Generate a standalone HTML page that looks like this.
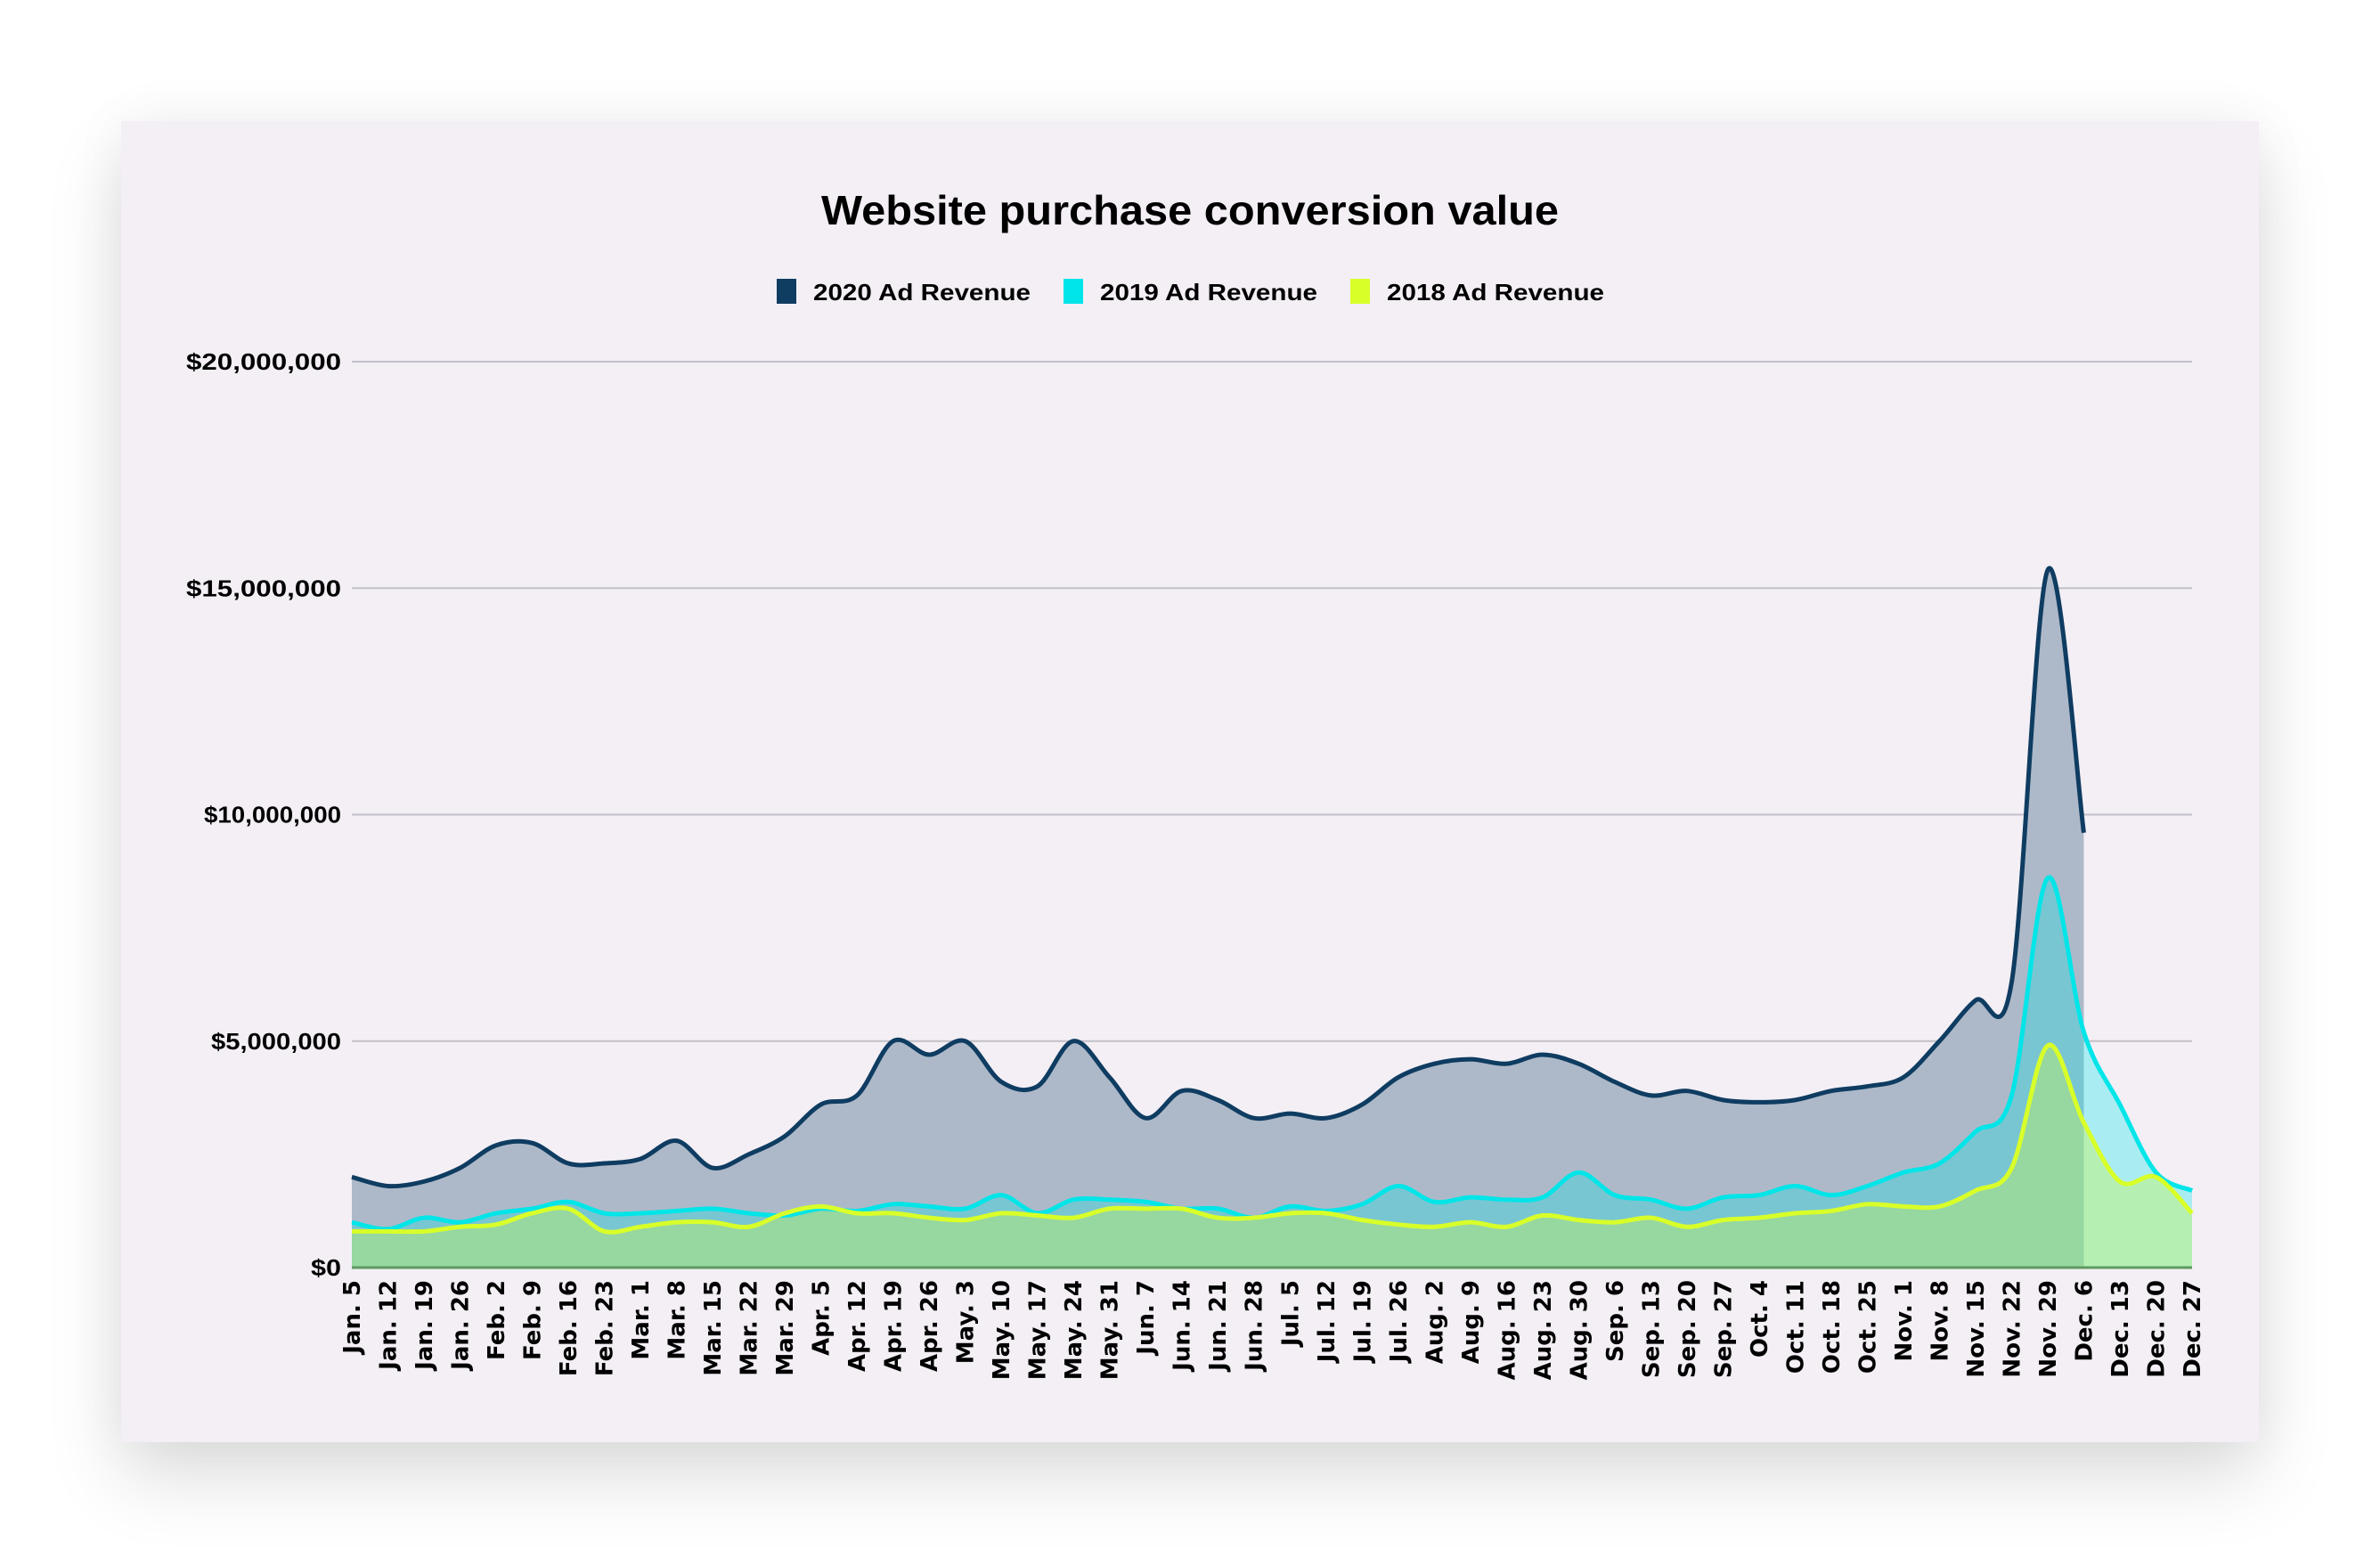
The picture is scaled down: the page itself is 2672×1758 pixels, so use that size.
<!DOCTYPE html>
<html><head><meta charset="utf-8"><style>
body{margin:0;background:#fff;width:2672px;height:1758px;overflow:hidden;font-family:"Liberation Sans",Arial,sans-serif}
#card{position:absolute;left:136px;top:136px;width:2400px;height:1483px;background:#f3eff5;box-shadow:0 40px 80px rgba(0,0,0,0.13),0 0 60px rgba(0,0,0,0.05)}
svg{position:absolute;left:0;top:0}
</style></head><body>
<div id="card"></div>
<svg id="s" width="2672" height="1758" xmlns="http://www.w3.org/2000/svg" font-family="Liberation Sans, Arial, sans-serif" font-weight="bold">
<text x="922" y="252" font-size="46" textLength="828" lengthAdjust="spacingAndGlyphs" fill="#000">Website purchase conversion value</text>
<rect x="872" y="313" width="22" height="28" fill="#0f3c61"/><text x="913" y="337" font-size="26" textLength="244" lengthAdjust="spacingAndGlyphs">2020 Ad Revenue</text>
<rect x="1194" y="313" width="22" height="28" fill="#00e5e8"/><text x="1235" y="337" font-size="26" textLength="244" lengthAdjust="spacingAndGlyphs">2019 Ad Revenue</text>
<rect x="1516" y="313" width="22" height="28" fill="#d9ff29"/><text x="1557" y="337" font-size="26" textLength="244" lengthAdjust="spacingAndGlyphs">2018 Ad Revenue</text>
<g id="grid" stroke="#c3bfc8" stroke-width="2"></g>
<g id="ylab" font-size="26"></g>
<g id="plot"></g>
<g id="xlab" font-size="26"></g>
</svg>
<script>
const labels=["Jan. 5","Jan. 12","Jan. 19","Jan. 26","Feb. 2","Feb. 9","Feb. 16","Feb. 23","Mar. 1","Mar. 8","Mar. 15","Mar. 22","Mar. 29","Apr. 5","Apr. 12","Apr. 19","Apr. 26","May. 3","May. 10","May. 17","May. 24","May. 31","Jun. 7","Jun. 14","Jun. 21","Jun. 28","Jul. 5","Jul. 12","Jul. 19","Jul. 26","Aug. 2","Aug. 9","Aug. 16","Aug. 23","Aug. 30","Sep. 6","Sep. 13","Sep. 20","Sep. 27","Oct. 4","Oct. 11","Oct. 18","Oct. 25","Nov. 1","Nov. 8","Nov. 15","Nov. 22","Nov. 29","Dec. 6","Dec. 13","Dec. 20","Dec. 27"];
const d20=[2.0,1.8,1.9,2.2,2.7,2.75,2.3,2.3,2.4,2.8,2.2,2.5,2.9,3.6,3.8,5.0,4.7,5.0,4.1,4.0,5.0,4.2,3.3,3.9,3.7,3.3,3.4,3.3,3.6,4.2,4.5,4.6,4.5,4.7,4.5,4.1,3.8,3.9,3.7,3.65,3.7,3.9,4.0,4.2,5.0,5.9,6.3,15.4,9.6];
const d19=[1.0,0.85,1.1,1.0,1.2,1.3,1.45,1.2,1.2,1.25,1.3,1.2,1.15,1.3,1.25,1.4,1.35,1.3,1.6,1.2,1.5,1.5,1.45,1.3,1.3,1.1,1.35,1.25,1.4,1.8,1.45,1.55,1.5,1.55,2.1,1.6,1.5,1.3,1.55,1.6,1.8,1.6,1.8,2.1,2.3,3.0,3.8,8.6,5.2,3.6,2.1,1.7];
const d18=[0.8,0.8,0.8,0.9,0.95,1.2,1.3,0.8,0.9,1.0,1.0,0.9,1.2,1.35,1.2,1.2,1.1,1.05,1.2,1.15,1.1,1.3,1.3,1.3,1.1,1.1,1.2,1.2,1.05,0.95,0.9,1.0,0.9,1.15,1.05,1.0,1.1,0.9,1.05,1.1,1.2,1.25,1.4,1.35,1.35,1.7,2.2,4.9,3.2,1.9,2.0,1.2];
const X0=395,X1=2461,Y0=1423,PM=254.25/5,st=(X1-X0)/51;
const X=i=>X0+i*st,Y=v=>Y0-v*PM;
let g='',yl='';
for(let k=0;k<=4;k++){const y=Y(k*5);if(k>0)g+=`<line x1="${X0}" x2="${X1}" y1="${y}" y2="${y}"/>`;
const t=k==0?'$0':'$'+(k*5)+',000,000';const w=[34,0,154,174,174][k]||146;const ww=k==1?146:w;
yl+=`<text x="${383-ww}" y="${y+9}" textLength="${ww}" lengthAdjust="spacingAndGlyphs">${t}</text>`;}
document.getElementById('grid').innerHTML=g;document.getElementById('ylab').innerHTML=yl;
function path(d){const p=d.map((v,i)=>[X(i),Y(v)]);let s=`M${p[0][0]},${p[0][1]}`;
for(let i=0;i<p.length-1;i++){const a=p[i-1]||p[i],b=p[i],c=p[i+1],e=p[i+2]||c;
s+=` C${b[0]+(c[0]-a[0])/6},${b[1]+(c[1]-a[1])/6} ${c[0]-(e[0]-b[0])/6},${c[1]-(e[1]-b[1])/6} ${c[0]},${c[1]}`;}return s;}
function area(d){return path(d)+` L${X(d.length-1)},${Y0} L${X0},${Y0} Z`;}
const cut=X(48);
let h=`<defs><clipPath id="L"><rect x="0" y="0" width="${cut}" height="1758"/></clipPath><clipPath id="R"><rect x="${cut}" y="0" width="2672" height="1758"/></clipPath></defs>`;
h+=`<path d="${area(d20)}" fill="#adb9c9"/>`;
h+=`<path d="${area(d19)}" fill="#00e5e8" fill-opacity="0.3"/>`;
h+=`<path d="${area(d18)}" fill="#97d7a0" clip-path="url(#L)"/>`;
h+=`<path d="${area(d18)}" fill="#b6efb2" clip-path="url(#R)"/>`;
h+=`<line x1="${X0}" x2="${X1}" y1="${Y0}" y2="${Y0}" stroke="#5f9a5f" stroke-width="3"/>`;
h+=`<path d="${path(d20)}" fill="none" stroke="#0f3c61" stroke-width="5"/>`;
h+=`<path d="${path(d19)}" fill="none" stroke="#00e5e8" stroke-width="5"/>`;
h+=`<path d="${path(d18)}" fill="none" stroke="#d9ff29" stroke-width="5"/>`;
document.getElementById('plot').innerHTML=h;
let xl='';labels.forEach((l,i)=>{xl+=`<text transform="translate(${X(i)+9},1437) rotate(-90)" text-anchor="end" font-family="DejaVu Sans, sans-serif">${l}</text>`;});
document.getElementById('xlab').innerHTML=xl;
</script>
</body></html>
